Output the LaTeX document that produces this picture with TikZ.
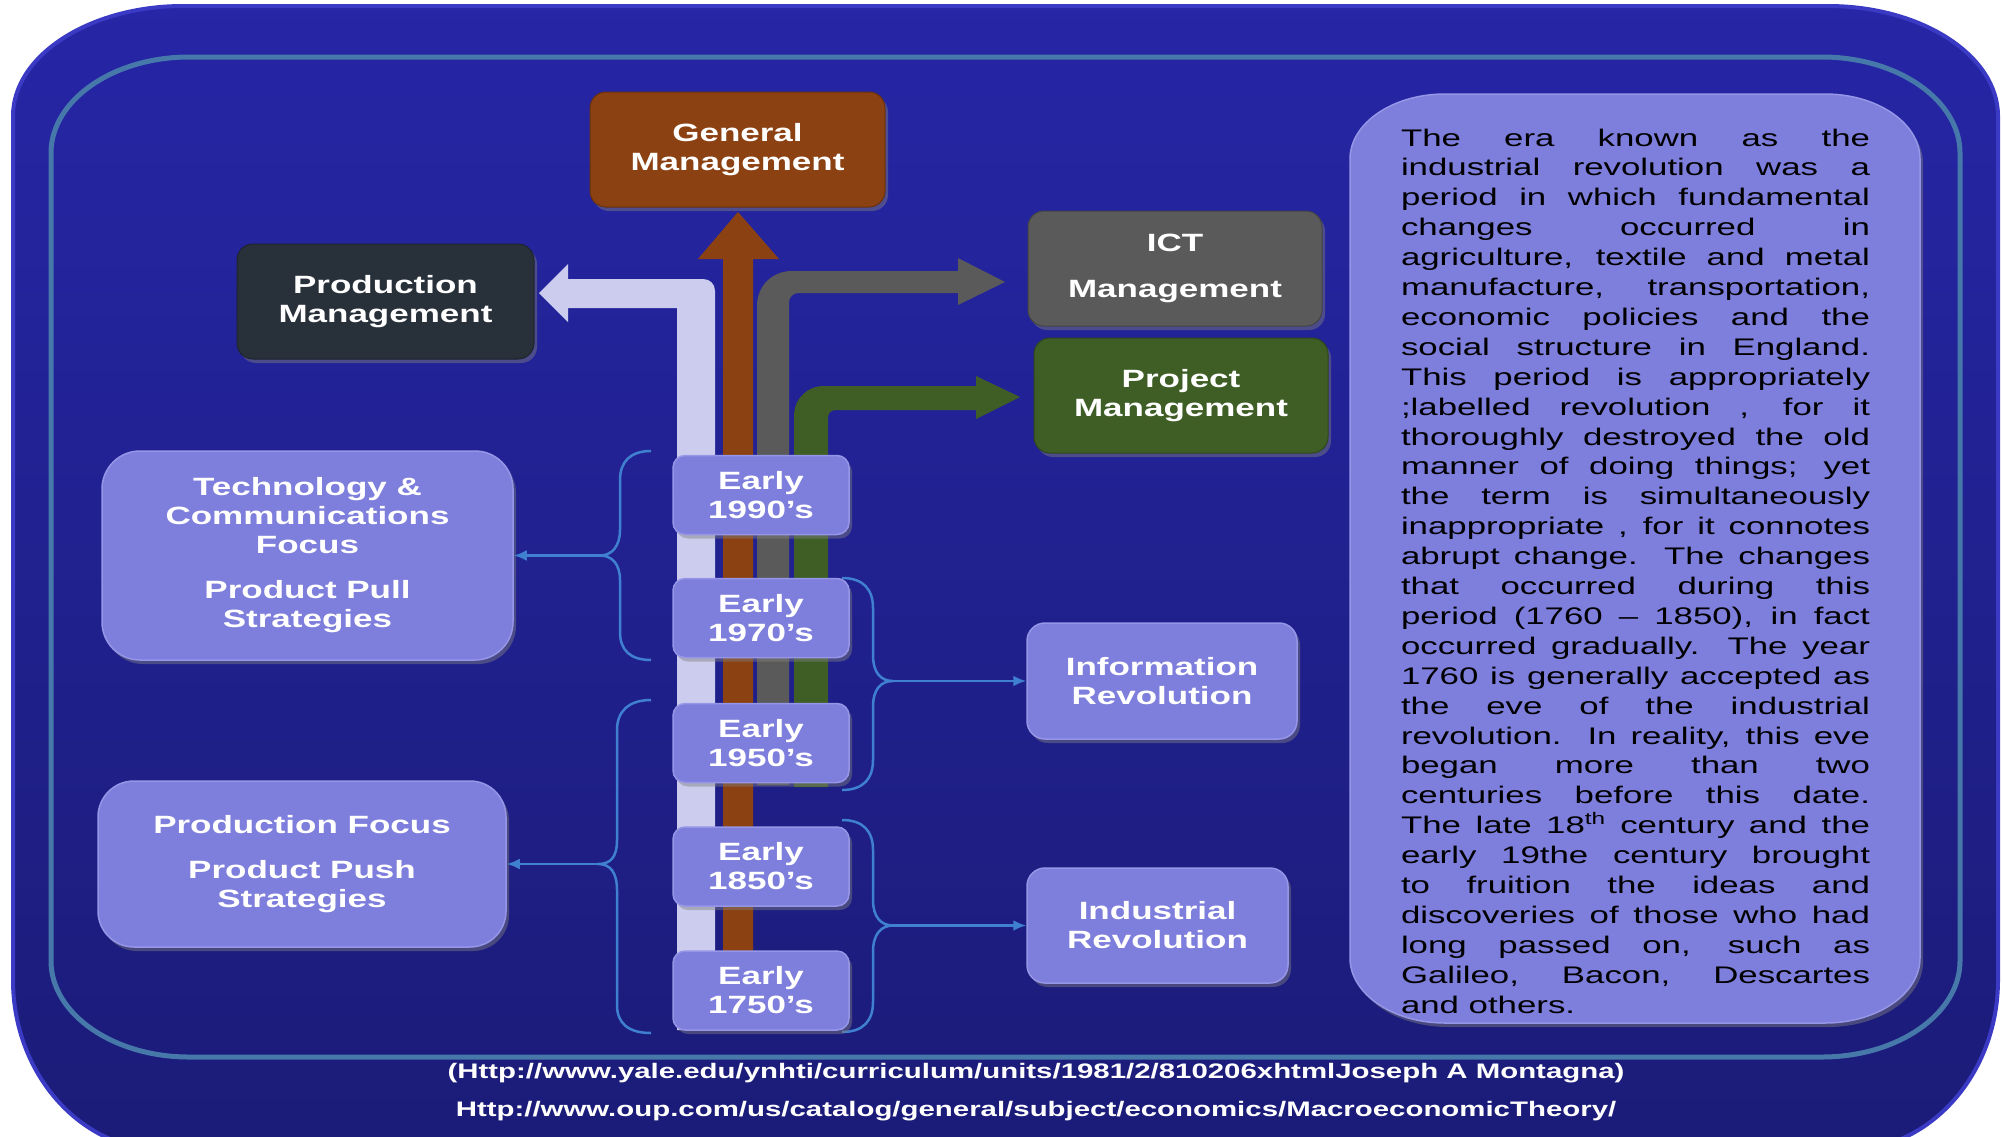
\documentclass[tikz,border=0pt]{standalone}
\usepackage{fontspec}
\usetikzlibrary{arrows.meta,shadows}
\newfontfamily\hfont{Liberation Sans Bold}[FakeStretch=1.4]
\newfontfamily\bodyfont{Liberation Sans}[FakeStretch=1.45]
\definecolor{bgtop}{RGB}{38,38,166}
\definecolor{bgbot}{RGB}{27,27,120}
\definecolor{rim}{RGB}{58,58,196}
\definecolor{innerln}{RGB}{70,120,170}
\definecolor{brownc}{RGB}{140,65,18}
\definecolor{darkc}{RGB}{40,48,57}
\definecolor{grayc}{RGB}{90,90,90}
\definecolor{greenc}{RGB}{62,94,38}
\definecolor{lav}{RGB}{126,126,220}
\definecolor{lavtop}{RGB}{150,150,232}
\definecolor{lavband}{RGB}{204,204,238}
\definecolor{bracec}{RGB}{64,128,208}
\newcommand\jl[1]{\makebox[469pt][s]{#1}\\}
\newcommand\erect[7]{%
  \path[#1] (#2,#3+#7) .. controls (#2,#3+0.45*#7) and (#2+0.45*#6,#3) .. (#2+#6,#3)
   -- (#4-#6,#3) .. controls (#4-0.45*#6,#3) and (#4,#3+0.45*#7) .. (#4,#3+#7)
   -- (#4,#5-#7) .. controls (#4,#5-0.45*#7) and (#4-0.45*#6,#5) .. (#4-#6,#5)
   -- (#2+#6,#5) .. controls (#2+0.45*#6,#5) and (#2,#5-0.45*#7) .. (#2,#5-#7) -- cycle;}
\begin{document}
\begin{tikzpicture}[x=1pt,y=-1pt,
  hd/.style={font=\hfont\fontsize{25}{29}\selectfont, text=white, align=center, inner sep=0pt},
  shad/.style={drop shadow={shadow xshift=3pt,shadow yshift=-4pt,opacity=0.45}},
  solidbox/.style={hd, draw=#1!75!black, fill=#1, line width=1pt, rounded corners=16pt, shad},
  lavbox/.style={hd, draw=lavtop, fill=lav, line width=1.5pt, shad},
  era/.style={lavbox, minimum width=176pt, minimum height=79pt, rounded corners=12pt},
  brc/.style={draw=bracec, line width=2.5pt},
  brarrow/.style={draw=bracec, line width=2.5pt, -{Latex[length=13pt,width=11pt]}},
  bodytxt/.style={font=\bodyfont\fontsize{24}{29.9}\selectfont, text=black, align=left, inner sep=0pt}
]
\useasboundingbox (0,0) rectangle (2002,1136);
\fill[white] (0,0) rectangle (2002,1136);
\clip (0,0) rectangle (2002,1136);
% outer panel
\path[top color=bgtop, bottom color=bgbot, draw=rim, line width=4pt]
  (13,116) .. controls (13,55.5) and (89.5,6) .. (183,6) -- (1828,6)
  .. controls (1921.5,6) and (1998,55.5) .. (1998,116) -- (1998,980)
  .. controls (1998,1073.5) and (1930.5,1150) .. (1848,1150) -- (163,1150)
  .. controls (80.5,1150) and (13,1073.5) .. (13,980) -- cycle;
% inner border
\erect{draw=innerln, line width=5pt}{51}{57}{1960}{1057}{138}{96}
% description box
\erect{fill=lav, draw=lavtop, line width=1.5pt, shad}{1350}{94}{1920}{1023}{95}{65}
% bands
\fill[lavband] (677,1030) -- (677,308) -- (568,308) -- (568,322) -- (539,293) -- (568,264)
  -- (568,279) -- (703,279) .. controls (710,279) and (715,284) .. (715,291) -- (715,1030) -- cycle;
\fill[brownc] (723,955) -- (723,259) -- (698,259) -- (738,212) -- (779,259) -- (753,259) -- (753,955) -- cycle;
\fill[grayc] (757,785) -- (757,306) .. controls (757,286) and (772,271) .. (792,271) -- (958,271)
  -- (958,258) -- (1005,282) -- (958,305) -- (958,293) -- (799,293)
  .. controls (793,293) and (789,297) .. (789,303) -- (789,785) -- cycle;
\fill[greenc] (794,787) -- (794,416) .. controls (794,399) and (807,386) .. (824,386) -- (976,386)
  -- (976,376) -- (1020,397) -- (976,419) -- (976,410) -- (836,410)
  .. controls (831,410) and (828,413) .. (828,418) -- (828,787) -- cycle;
% braces
\draw[brc] (651,451) .. controls (630,451) and (620,462) .. (620,480) -- (620,530)
  .. controls (620,546) and (612,555.5) .. (600,555.5) .. controls (612,555.5) and (620,564) .. (620,580)
  -- (620,632) .. controls (620,650) and (630,660) .. (651,660);
\coordinate (lb1) at (600,555.5);
\draw[brc] (651,700) .. controls (628,700) and (617,712) .. (617,730) -- (617,840)
  .. controls (617,858) and (610,864) .. (598,864) .. controls (610,864) and (617,872) .. (617,890)
  -- (617,1005) .. controls (617,1023) and (628,1033) .. (651,1033);
\coordinate (lb2) at (598,864);
\draw[brc] (842,578) .. controls (864,578) and (873,590) .. (873,608) -- (873,655)
  .. controls (873,673) and (881,681) .. (893,681) .. controls (881,681) and (873,689) .. (873,707)
  -- (873,760) .. controls (873,778) and (864,790) .. (842,790);
\coordinate (rb1) at (893,681);
\draw[brc] (842,820) .. controls (864,820) and (873,832) .. (873,850) -- (873,900)
  .. controls (873,917) and (881,925.5) .. (893,925.5) .. controls (881,925.5) and (873,934) .. (873,952)
  -- (873,1002) .. controls (873,1020) and (864,1032) .. (842,1032);
\coordinate (rb2) at (893,925.5);
% boxes
\node[solidbox=brownc, minimum width=295pt, minimum height=115pt] (gen) at (737.5,149.5) {General\\Management};
\node[solidbox=darkc, minimum width=297pt, minimum height=115pt] (pm) at (385.5,301.5) {Production\\Management};
\node[solidbox=grayc, minimum width=294pt, minimum height=115pt] (ict) at (1175,268.5) {ICT\\[17pt]Management};
\node[solidbox=greenc, minimum width=294pt, minimum height=115pt] (proj) at (1181,395.5) {Project\\Management};
\node[lavbox, minimum width=411pt, minimum height=209pt, rounded corners=38pt] (tech) at (307.5,555.5)
  {Technology \&\\Communications\\Focus\\[16pt]Product Pull\\Strategies};
\node[lavbox, minimum width=408pt, minimum height=166pt, rounded corners=36pt] (pf) at (302,864)
  {Production Focus\\[16pt]Product Push\\Strategies};
\node[era] (e1990) at (761,495) {Early\\1990’s};
\node[era] (e1970) at (761,618) {Early\\1970’s};
\node[era] (e1950) at (761,743) {Early\\1950’s};
\node[era] (e1850) at (761,866.5) {Early\\1850’s};
\node[era] (e1750) at (761,990.5) {Early\\1750’s};
\node[lavbox, minimum width=270pt, minimum height=116pt, rounded corners=18pt] (info) at (1162,681) {Information\\Revolution};
\node[lavbox, minimum width=261pt, minimum height=115pt, rounded corners=18pt] (ind) at (1157.5,925.5) {Industrial\\Revolution};
% connectors from braces
\draw[brarrow] (lb1) -- (tech.east);
\draw[brarrow] (lb2) -- (pf.east);
\draw[brarrow] (rb1) -- (info.west);
\draw[brarrow] (rb2) -- (ind.west);
% description text
\node[bodytxt] (desc) at (1635.5,571) {%
\jl{The era known as the}
\jl{industrial revolution was a}
\jl{period in which fundamental}
\jl{changes occurred in}
\jl{agriculture, textile and metal}
\jl{manufacture, transportation,}
\jl{economic policies and the}
\jl{social structure in England.}
\jl{This period is appropriately}
\jl{;labelled revolution , for it}
\jl{thoroughly destroyed the old}
\jl{manner of doing things; yet}
\jl{the term is simultaneously}
\jl{inappropriate , for it connotes}
\jl{abrupt change. The changes}
\jl{that occurred during this}
\jl{period (1760 – 1850), in fact}
\jl{occurred gradually. The year}
\jl{1760 is generally accepted as}
\jl{the eve of the industrial}
\jl{revolution. In reality, this eve}
\jl{began more than two}
\jl{centuries before this date.}
\jl{The late 18\textsuperscript{th} century and the}
\jl{early 19the century brought}
\jl{to fruition the ideas and}
\jl{discoveries of those who had}
\jl{long passed on, such as}
\jl{Galileo, Bacon, Descartes}
and others.};
% footer
\node[hd, font=\hfont\fontsize{21}{25}\selectfont] (ref1) at (1036,1073)
  {(Http://www.yale.edu/ynhti/curriculum/units/1981/2/810206xhtmlJoseph A Montagna)};
\node[hd, font=\hfont\fontsize{21}{25}\selectfont] (ref2) at (1036,1111)
  {Http://www.oup.com/us/catalog/general/subject/economics/MacroeconomicTheory/};
\end{tikzpicture}
\end{document}
